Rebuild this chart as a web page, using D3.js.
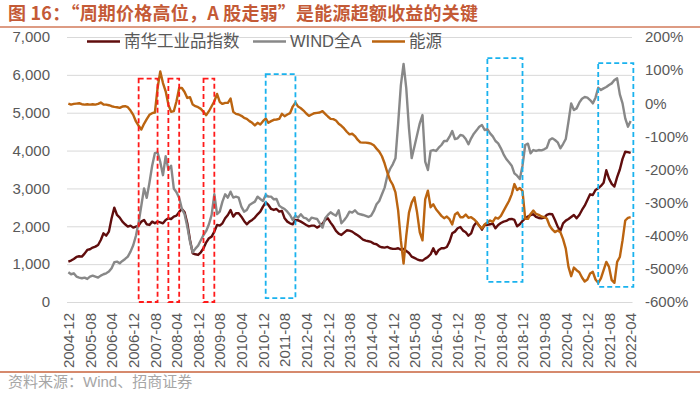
<!DOCTYPE html>
<html>
<head>
<meta charset="utf-8">
<script src="https://cdn.jsdelivr.net/npm/d3@7"></script>
<style>
body { margin: 0; background: #fff; }
svg { display: block; font-family: "Liberation Sans", Arial, "Noto Sans CJK SC", sans-serif; }
</style>
</head>
<body>
<div id="chart"></div>
<script>
// monthly data, first month below
var startMonth = "2004-12";
var xTickLabels = ["2004-12", "2005-08", "2006-04", "2006-12", "2007-08", "2008-04", "2008-12", "2009-08",
	"2010-04", "2010-12", "2011-08", "2012-04", "2012-12", "2013-08", "2014-04", "2014-12", "2015-08",
	"2016-04", "2016-12", "2017-08", "2018-04", "2018-12", "2019-08", "2020-04", "2020-12", "2021-08", "2022-04"];
var leftTicks = [0, 1000, 2000, 3000, 4000, 5000, 6000, 7000];
var rightTicks = [-600, -500, -400, -300, -200, -100, 0, 100, 200];
var seriesNames = ["南华工业品指数", "WIND全A", "能源"];

// 南华工业品指数 (left axis)
var nanhua = [1067, 1094, 1138, 1190, 1208, 1199, 1278, 1375, 1393, 1437, 1463, 1507, 1639, 1815, 1753, 1859,
	2211, 2493, 2299, 2229, 2123, 2053, 1991, 2017, 1965, 1991, 2017, 2123, 2167, 2053, 2035, 2123,
	2079, 2123, 2105, 2079, 2167, 2211, 2193, 2255, 2281, 2380, 2460, 2370, 2079, 1639, 1287, 1261,
	1243, 1313, 1419, 1577, 1683, 1727, 1859, 2035, 2017, 2079, 2211, 2299, 2431, 2255, 2343, 2343,
	2255, 2141, 2053, 2123, 2167, 2229, 2317, 2387, 2519, 2633, 2563, 2457, 2431, 2457, 2387, 2405,
	2211, 2123, 2079, 2053, 2167, 2158, 2123, 2079, 2035, 1999, 2017, 2017, 1965, 2009, 2070, 2167,
	2211, 2097, 1999, 1877, 1806, 1771, 1833, 1894, 1885, 1859, 1806, 1762, 1709, 1648, 1621, 1604,
	1586, 1542, 1525, 1472, 1446, 1437, 1455, 1419, 1402, 1402, 1419, 1384, 1402, 1349, 1296, 1199,
	1164, 1129, 1102, 1093, 1146, 1190, 1261, 1419, 1261, 1375, 1419, 1419, 1454, 1595, 1815, 1859,
	1947, 1982, 1885, 1841, 1753, 1815, 2017, 2105, 2017, 1911, 2035, 2035, 2053, 2070, 1947, 2035,
	2088, 2123, 2141, 2185, 2193, 2167, 1999, 2053, 2141, 2211, 2255, 2299, 2317, 2246, 2220, 2211,
	2229, 2299, 2325, 2317, 2167, 1991, 1880, 2079, 2149, 2193, 2246, 2299, 2211, 2299, 2431, 2545,
	2695, 2845, 2827, 2959, 3003, 3065, 3150, 3480, 3260, 3120, 3050, 3300, 3500, 3780, 3970, 3960, 3940];

// WIND全A (left axis)
var windA = [785, 733, 759, 671, 645, 627, 645, 609, 671, 697, 671, 645, 697, 733, 759, 803,
	891, 1049, 1067, 1023, 1085, 1138, 1199, 1331, 1500, 1750, 2100, 2550, 3000, 2750, 3150, 3600,
	3930, 3950, 3700, 3350, 3850, 3500, 3600, 3000, 2900, 2750, 2457, 2317, 1991, 1595, 1313, 1410,
	1489, 1630, 1771, 1877, 2053, 2300, 2850, 2320, 2387, 2651, 2845, 2757, 2915, 2757, 2783, 2757,
	2519, 2387, 2431, 2563, 2607, 2651, 2783, 2721, 2669, 2827, 2783, 2783, 2713, 2721, 2545, 2493,
	2457, 2387, 2299, 2167, 2281, 2229, 2317, 2229, 2211, 2141, 2229, 2211, 2193, 2079, 1965, 2211,
	2299, 2369, 2317, 2281, 2422, 2079, 2158, 2255, 2387, 2361, 2422, 2343, 2317, 2299, 2273, 2246,
	2281, 2405, 2581, 2669, 2845, 3021, 3337, 3513, 3637, 3795, 4719, 5731, 6290, 5643, 4587, 3800,
	4103, 4411, 4719, 4939, 3707, 3487, 3989, 4015, 3989, 4077, 4147, 4253, 4253, 4367, 4517, 4305,
	4323, 4411, 4393, 4305, 4165, 4323, 4446, 4534, 4631, 4675, 4543, 4569, 4455, 4376, 4253, 4191,
	4059, 3901, 3777, 3689, 3601, 3399, 3337, 3250, 3600, 4147, 4182, 3927, 4015, 3989, 4015, 4006,
	4033, 4077, 4279, 4323, 4279, 4217, 4059, 4173, 4305, 4763, 5247, 5071, 5115, 5265, 5370, 5414,
	5397, 5335, 5247, 5397, 5661, 5599, 5643, 5678, 5731, 5775, 5863, 5907, 5485, 5247, 4851, 4631, 4781];

// 能源 (right axis, %)
var energy = [-1, -4, -2, -1, 0, -3, -4, -3, -4, -3, -4, -2, 2, -4, -4, -6,
	-9, -11, -12, -14, -10, -9, -12, -22, -35, -55, -68, -79, -62, -48, -35, -30,
	-28, 46, 96, 61, 36, -4, -26, -24, 6, 46, 46, 34, 16, 18, -4, -9,
	-12, -17, -26, -36, -24, -9, 6, 28, 4, -2, 1, 1, 14, -26, -32, -34,
	-38, -44, -47, -54, -59, -67, -59, -64, -54, -46, -59, -54, -50, -49, -47, -32,
	-39, -34, -30, -10, 2, -10, -15, -22, -31, -38, -34, -30, -29, -28, -24, -32,
	-40, -47, -48, -52, -62, -68, -76, -86, -94, -92, -99, -110, -118, -119, -119, -120,
	-122, -127, -137, -146, -160, -182, -209, -232, -246, -269, -324, -414, -484, -400, -330, -300,
	-284, -330, -390, -414, -290, -264, -314, -305, -320, -330, -340, -347, -342, -350, -366, -336,
	-330, -344, -344, -336, -346, -344, -350, -358, -370, -378, -366, -360, -354, -358, -345, -348,
	-340, -325, -310, -295, -275, -244, -262, -256, -265, -349, -349, -334, -324, -334, -337, -342,
	-344, -348, -369, -381, -389, -384, -389, -410, -439, -494, -522, -496, -504, -510, -526, -538,
	-532, -514, -509, -532, -542, -529, -504, -479, -494, -534, -542, -479, -464, -414, -354, -346, -344];

// dashed highlight boxes: month range and left-axis value range
var boxStart = ["2007-02", "2008-01", "2009-02", "2011-01", "2017-11", "2021-04"];
var boxEnd = ["2007-09", "2008-05", "2009-06", "2011-12", "2018-12", "2022-05"];
var boxLow = [0, 0, 0, 100, 530, 400];
var boxHigh = [5900, 5900, 5900, 6020, 6440, 6310];
var boxKind = ["red", "red", "red", "blue", "blue", "blue"];

var colors = ["#600d0d", "#888888", "#bb6410"];
var boxColors = { red: "#ff1a1a", blue: "#1ab2ee" };

var parseMonth = d3.timeParse("%Y-%m");
var first = parseMonth(startMonth);
function monthIndex(s) { return d3.timeMonth.count(first, parseMonth(s)); }

var svg = d3.select("#chart").append("svg")
	.attr("width", 700)
	.attr("height", 395);

var plotLeft = 67, plotRight = 632, plotTop = 37, plotBottom = 302;

var x = d3.scaleLinear().domain([-0.5, nanhua.length - 0.5]).range([plotLeft, plotRight]);
var yL = d3.scaleLinear().domain([0, 7000]).range([plotBottom, plotTop]);
var yR = d3.scaleLinear().domain([-600, 200]).range([plotBottom, plotTop]);

// title
svg.append("text")
	.attr("x", 8)
	.attr("y", 20)
	.attr("font-family", "'Noto Sans CJK SC', sans-serif")
	.attr("font-size", "18px")
	.attr("font-weight", "bold")
	.attr("fill", "#c45a36")
	.attr("textLength", 470)
	.attr("lengthAdjust", "spacing")
	.text("图 16：“周期价格高位，A 股走弱”是能源超额收益的关键");
svg.append("line")
	.attr("x1", 0).attr("x2", 700)
	.attr("y1", 27).attr("y2", 27)
	.attr("stroke", "#d27a5a")
	.attr("stroke-width", 1.5);

// gridlines
svg.append("g")
	.attr("transform", `translate(${plotLeft},0)`)
	.call(d3.axisLeft(yL).tickValues(leftTicks).tickSize(-(plotRight - plotLeft)).tickFormat(""))
	.call(g => g.select(".domain").remove())
	.call(g => g.selectAll("line").attr("stroke", "#d9d9d9").attr("stroke-width", 1));

// left axis labels
svg.append("g")
	.attr("transform", `translate(${plotLeft},0)`)
	.call(d3.axisLeft(yL).tickValues(leftTicks).tickSize(0).tickPadding(17).tickFormat(d3.format(",")))
	.call(g => g.select(".domain").remove())
	.call(g => g.selectAll("text").attr("font-size", "15px").attr("fill", "#595959").attr("font-family", null));

// right axis labels
svg.append("g")
	.attr("transform", `translate(${plotRight},0)`)
	.call(d3.axisRight(yR).tickValues(rightTicks).tickSize(0).tickPadding(13).tickFormat(d => d + "%"))
	.call(g => g.select(".domain").remove())
	.call(g => g.selectAll("text").attr("font-size", "15px").attr("fill", "#595959").attr("font-family", null));

// x axis
svg.append("g")
	.attr("transform", `translate(0,${plotBottom})`)
	.call(d3.axisBottom(x).tickValues(xTickLabels.map(monthIndex)).tickSize(0)
		.tickFormat((d, i) => xTickLabels[i]))
	.call(g => g.select(".domain").attr("stroke", "#d9d9d9"))
	.call(g => g.selectAll("text")
		.attr("font-size", "15px")
		.attr("fill", "#595959")
		.attr("font-family", null)
		.attr("text-anchor", "end")
		.attr("transform", "rotate(-90)")
		.attr("x", -11)
		.attr("y", 0)
		.attr("dy", "0.35em"));

// series
var lineL = d3.line().x((d, i) => x(i)).y(d => yL(d));
var lineR = d3.line().x((d, i) => x(i)).y(d => yR(d));
var series = [
	{ data: nanhua, line: lineL },
	{ data: windA, line: lineL },
	{ data: energy, line: lineR }
];
series.forEach(function (s, k) {
	svg.append("path")
		.datum(s.data)
		.attr("d", s.line)
		.attr("fill", "none")
		.attr("stroke", colors[k])
		.attr("stroke-width", 2.4)
		.attr("stroke-linejoin", "round");
});

// dashed boxes
for (var b = 0; b < boxStart.length; b++) {
	var x0 = x(monthIndex(boxStart[b]));
	var x1 = x(monthIndex(boxEnd[b]));
	svg.append("rect")
		.attr("x", x0)
		.attr("y", yL(boxHigh[b]))
		.attr("width", x1 - x0)
		.attr("height", yL(boxLow[b]) - yL(boxHigh[b]))
		.attr("fill", "none")
		.attr("stroke", boxColors[boxKind[b]])
		.attr("stroke-width", 1.8)
		.attr("stroke-dasharray", "5,3");
}

// legend
var legendX = [87, 253, 372];
var legend = svg.append("g");
for (var k = 0; k < seriesNames.length; k++) {
	legend.append("line")
		.attr("x1", legendX[k]).attr("x2", legendX[k] + 33)
		.attr("y1", 41.5).attr("y2", 41.5)
		.attr("stroke", colors[k])
		.attr("stroke-width", 2.6);
	legend.append("text")
		.attr("x", legendX[k] + 37)
		.attr("y", 41.5)
		.attr("dy", "0.36em")
		.attr("font-size", "16.5px")
		.attr("fill", "#595959")
		.text(seriesNames[k]);
}

// source note
svg.append("line")
	.attr("x1", 0).attr("x2", 700)
	.attr("y1", 372).attr("y2", 372)
	.attr("stroke", "#c8633d")
	.attr("stroke-width", 1.5);
svg.append("text")
	.attr("x", 8)
	.attr("y", 387)
	.attr("font-size", "15px")
	.attr("fill", "#a6a6a6")
	.text("资料来源：Wind、招商证券");
</script>
</body>
</html>
